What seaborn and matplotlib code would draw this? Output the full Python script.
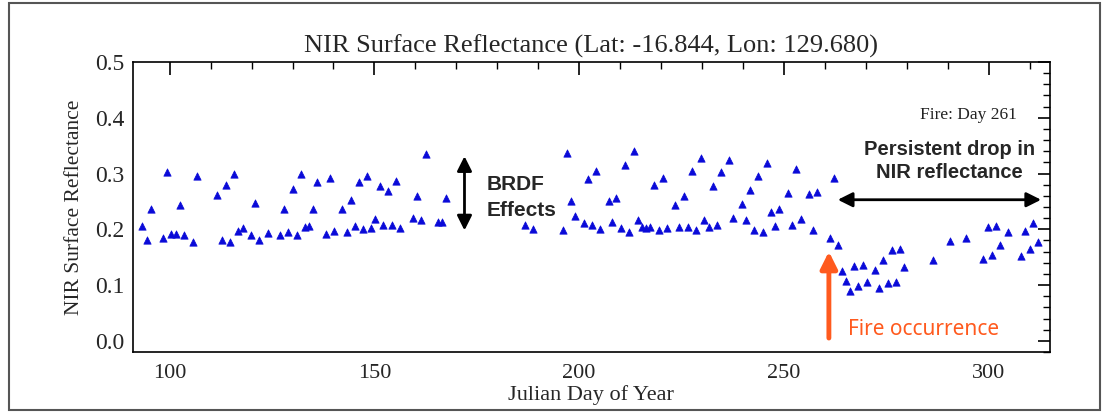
import numpy as np
import pandas as pd
import seaborn as sns
import matplotlib.pyplot as plt
from matplotlib.patches import Rectangle
from matplotlib.ticker import MultipleLocator

# NIR reflectance before the fire (day of year, reflectance)
days_pre = [93.3, 94.5, 95.5, 98.4, 99.4, 100.4, 101.5, 102.5, 103.6, 105.6, 106.6, 111.6, 112.7,
            113.7, 114.7, 115.8, 116.8, 117.8, 119.9, 120.8, 121.9, 123.9, 126.9, 127.9, 129.0, 130.0,
            131.0, 132.1, 133.0, 134.1, 135.1, 136.1, 138.2, 139.1, 140.2, 142.2, 143.2, 144.3, 145.2,
            146.3, 147.3, 148.3, 149.2, 150.2, 151.3, 152.2, 153.3, 154.3, 155.3, 156.3, 159.4, 160.5,
            161.4, 162.5, 165.5, 166.6, 167.6, 186.8, 188.8, 196.0, 197.0, 198.1, 199.0, 201.1, 202.1,
            203.1, 204.2, 205.1, 207.2, 208.1, 209.1, 210.2, 211.2, 212.3, 213.3, 214.3, 215.3, 216.4,
            217.3, 218.4, 219.4, 220.4, 221.4, 223.5, 224.5, 225.6, 226.5, 227.6, 228.6, 229.7, 230.6,
            231.7, 232.7, 233.7, 234.7, 236.7, 237.7, 239.7, 240.8, 241.8, 242.8, 243.8, 244.8, 245.8,
            246.9, 247.9, 248.9, 251.0, 252.0, 253.0, 254.1, 256.1, 257.1, 258.1]
refl_pre = [0.206, 0.181, 0.237, 0.184, 0.303, 0.192, 0.192, 0.243, 0.189, 0.178, 0.296, 0.262, 0.181,
            0.279, 0.178, 0.300, 0.197, 0.203, 0.189, 0.248, 0.181, 0.194, 0.190, 0.236, 0.196, 0.273,
            0.189, 0.300, 0.204, 0.206, 0.236, 0.285, 0.192, 0.292, 0.197, 0.236, 0.196, 0.253, 0.206,
            0.285, 0.200, 0.295, 0.203, 0.219, 0.278, 0.207, 0.268, 0.207, 0.286, 0.203, 0.221, 0.259,
            0.217, 0.335, 0.213, 0.213, 0.257, 0.208, 0.201, 0.199, 0.337, 0.250, 0.224, 0.212, 0.290,
            0.207, 0.305, 0.200, 0.250, 0.213, 0.256, 0.203, 0.315, 0.195, 0.341, 0.217, 0.205, 0.202,
            0.205, 0.280, 0.199, 0.292, 0.202, 0.243, 0.205, 0.259, 0.205, 0.304, 0.199, 0.328, 0.216,
            0.204, 0.278, 0.207, 0.302, 0.324, 0.221, 0.245, 0.216, 0.271, 0.198, 0.295, 0.196, 0.319,
            0.231, 0.206, 0.237, 0.265, 0.207, 0.309, 0.219, 0.264, 0.198, 0.267]

# after the fire
days_post = [261.2, 262.2, 263.2, 264.3, 265.2, 266.2, 267.2, 268.2, 269.3, 270.3, 272.3, 273.3, 274.3,
             275.4, 276.3, 277.4, 278.4, 279.4, 286.5, 290.6, 294.6, 298.7, 299.8, 300.8, 301.8, 302.8,
             304.8, 307.9, 308.9, 310.0, 310.9, 312.0]
refl_post = [0.184, 0.292, 0.172, 0.125, 0.107, 0.089, 0.134, 0.098, 0.136, 0.105, 0.127, 0.094, 0.145,
             0.103, 0.163, 0.106, 0.165, 0.132, 0.145, 0.179, 0.184, 0.146, 0.204, 0.154, 0.206, 0.171,
             0.195, 0.152, 0.197, 0.164, 0.212, 0.178]

fire_day = 261

df = pd.DataFrame({'day': days_pre + days_post, 'refl': refl_pre + refl_post})

sns.set_style('white')
plt.rcParams['font.family'] = ['Liberation Serif', 'DejaVu Serif']

fig = plt.figure(figsize=(11.07, 4.19), dpi=100)
ax = fig.add_axes([0.120, 0.160, 0.8285, 0.692])

sns.scatterplot(data=df, x='day', y='refl', marker='^', color='#0a0ad8', edgecolor='#0a0ad8',
                s=28, linewidth=0.5, ax=ax)

ax.set_xlim(91, 315)
ax.set_ylim(-0.02, 0.5)
ax.xaxis.set_major_locator(MultipleLocator(50))
ax.xaxis.set_minor_locator(MultipleLocator(10))
ax.yaxis.set_major_locator(MultipleLocator(0.1))
ax.yaxis.set_minor_locator(MultipleLocator(0.02))
ax.yaxis.set_major_formatter(plt.FormatStrFormatter('%.1f'))
ax.tick_params(which='both', direction='in', top=True, right=True, labelsize=17, color='black')
ax.tick_params(which='major', length=9, width=1.2)
ax.tick_params(which='minor', length=5, width=1.0)
ax.tick_params(axis='x', pad=9, labelsize=16)
ax.tick_params(axis='y', pad=6)
for sp in ax.spines.values():
    sp.set_color('black')
    sp.set_linewidth(1.2)

ax.set_title('NIR Surface Reflectance (Lat: -16.844, Lon: 129.680)', fontsize=19, pad=7)
ax.set_xlabel('Julian Day of Year', fontsize=16, labelpad=1)
ax.set_ylabel('NIR Surface Reflectance', fontsize=15.5, labelpad=8)

# annotations
ax.text(307, 0.405, 'Fire: Day %d' % fire_day, fontsize=12.5, ha='right', va='center', color='#222222')
ax.text(290.5, 0.322, 'Persistent drop in\nNIR reflectance', fontsize=14.5, fontweight='bold',
        family='Liberation Sans', ha='center', va='center', linespacing=1.25)
ax.annotate('', xy=(262.5, 0.253), xytext=(313.5, 0.253),
            arrowprops=dict(arrowstyle='<|-|>', color='black', lw=2, mutation_scale=22))
ax.annotate('', xy=(172, 0.336), xytext=(172, 0.193),
            arrowprops=dict(arrowstyle='<|-|>', color='black', lw=2, mutation_scale=22))
ax.text(177.5, 0.257, 'BRDF\nEffects', fontsize=15, fontweight='bold', family='Liberation Sans',
        ha='left', va='center', linespacing=1.45)
ax.annotate('', xy=(fire_day, 0.165), xytext=(fire_day, 0.0),
            arrowprops=dict(arrowstyle='-|>', color='#ff5a1e', lw=3.5, mutation_scale=25))
ax.text(265.7, 0.02, 'Fire occurrence', fontsize=15, color='#ff5a1e', family='Noto Sans',
        ha='left', va='center')

# outer frame around the whole figure
fig.patches.append(Rectangle((0.008, 0.022), 0.986, 0.972, transform=fig.transFigure,
                             fill=False, edgecolor='#555555', linewidth=1.5))

fig.savefig('out.png', dpi=100)
